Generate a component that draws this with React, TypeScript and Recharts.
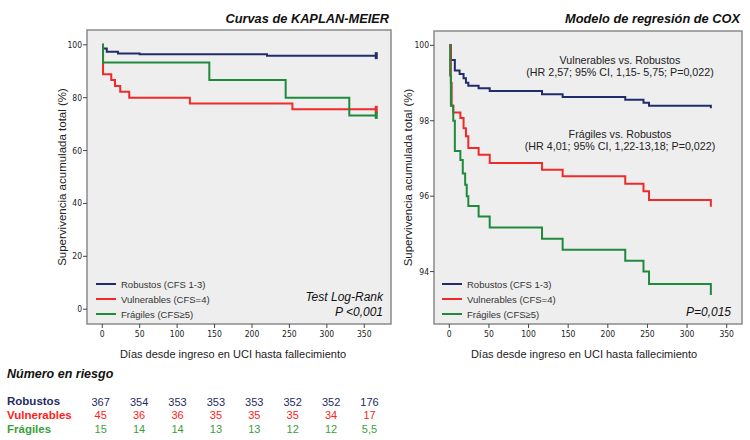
import { Label, Legend, Line, LineChart, ReferenceArea, XAxis, YAxis } from "recharts";

type Pt = [number, number];

// axis ticks
const dayTicks = [0, 50, 100, 150, 200, 250, 300, 350];
const kmTicks = [0, 20, 40, 60, 80, 100];
const coxTicks = [94, 96, 98, 100];

const seriesNames = ["Robustos (CFS 1-3)", "Vulnerables (CFS=4)", "Frágiles (CFS≥5)"];

// Kaplan-Meier curves: [day, % survival]
const kmRobustos: Pt[] = [[0, 100], [1, 98.6], [6, 97.4], [21, 96.7], [50, 96.4], [220, 95.9], [366, 95.9]];
const kmVulnerables: Pt[] = [[0, 100], [1, 88.9], [12, 86.7], [17, 84.4], [24, 82.2], [36, 80], [117, 77.8], [254, 75.6], [366, 75.6]];
const kmFragiles: Pt[] = [[0, 100], [1, 93.3], [143, 86.7], [245, 80], [330, 73.3], [366, 73.3]];

// Cox model curves: [day, % survival]
const coxRobustos: Pt[] = [[0, 100], [2, 99.61], [7, 99.33], [13, 99.24], [18, 99.13], [21, 99.01], [24, 98.93], [37, 98.86], [51, 98.79], [117, 98.7], [143, 98.63], [222, 98.56], [245, 98.48], [252, 98.4], [329, 98.4], [330, 98.33]];
const coxVulnerables: Pt[] = [[0, 100], [2, 99.0], [3, 98.4], [5, 98.22], [14, 98.07], [18, 97.8], [21, 97.59], [24, 97.28], [37, 97.1], [51, 96.88], [117, 96.7], [143, 96.53], [222, 96.33], [245, 96.13], [252, 95.9], [329, 95.9], [330, 95.72]];
const coxFragiles: Pt[] = [[0, 100], [1, 99.2], [2, 98.4], [5, 98.0], [7, 97.2], [14, 96.96], [17, 96.6], [20, 96.3], [22, 96.0], [24, 95.74], [37, 95.46], [51, 95.17], [117, 94.87], [143, 94.58], [222, 94.29], [245, 94.0], [252, 93.67], [329, 93.67], [330, 93.38]];

// number at risk
const riskRobustos = ["367", "354", "353", "353", "353", "352", "352", "176"];
const riskVulnerables = ["45", "36", "36", "35", "35", "35", "34", "17"];
const riskFragiles = ["15", "14", "14", "13", "13", "12", "12", "5,5"];

const NAVY = "#222c6c";
const RED = "#f02a2a";
const GREEN = "#1f8a3c";
const FONT = "'Liberation Sans', Arial, sans-serif";
const NARROW = "'Liberation Sans Narrow', 'DejaVu Sans Condensed', 'Liberation Sans', sans-serif";
const BG = "#eeeeee";
const FRAME = "#8a8a8a";

const toRows = (pts: Pt[]) => pts.map(([day, surv]) => ({ day, surv }));

// censor tick at the last point of a KM curve
const endMark = (color: string, last: number) => (props: any) => {
  const { cx, cy, index } = props;
  if (index !== last) return <g key={index} />;
  return <line key={index} x1={cx} x2={cx} y1={cy - 3.5} y2={cy + 3.5} stroke={color} strokeWidth={3} />;
};

function LegendBox(props: any) {
  const payload = [...(props.payload || [])].sort((a: any, b: any) => seriesNames.indexOf(a.value) - seriesNames.indexOf(b.value));
  return (
    <div style={{ fontFamily: FONT, fontSize: 9.5, color: "#333" }}>
      {payload.map((p: any) => (
        <div key={p.value} style={{ display: "flex", alignItems: "center", height: 15, whiteSpace: "nowrap" }}>
          <span style={{ display: "inline-block", width: 20, height: 2, background: p.color, marginRight: 5 }} />
          {p.value}
        </div>
      ))}
    </div>
  );
}

function Txt({ x, y, size, align = "left", bold, italic, color = "#111", children }: any) {
  const style: any = {
    position: "absolute",
    top: y - size / 2,
    fontSize: size,
    lineHeight: 1,
    fontFamily: FONT,
    fontWeight: bold ? "bold" : "normal",
    fontStyle: italic ? "italic" : "normal",
    color,
    whiteSpace: "nowrap",
  };
  if (align === "right") style.right = 750 - x;
  else if (align === "center") {
    style.left = x - 100;
    style.width = 200;
    style.textAlign = "center";
  } else style.left = x;
  return <div style={style}>{children}</div>;
}

const tickStyle = { fontSize: 8.5, fill: "#222", fontFamily: NARROW };

function RiskRow({ label, values, color, y }: { label: string; values: string[]; color: string; y: number }) {
  return (
    <>
      <Txt x={7} y={y} size={11.5} bold color={color}>{label}</Txt>
      {values.map((v, i) => (
        <div key={i} style={{ position: "absolute", left: 100.7 + i * 38.4 - 20, width: 40, top: y - 5.5, textAlign: "center", fontSize: 11, lineHeight: 1, fontFamily: FONT, color }}>
          {v}
        </div>
      ))}
    </>
  );
}

export default function App() {
  return (
    <div style={{ position: "absolute", left: 0, top: 0, width: 750, height: 440, background: "#fff", overflow: "hidden" }}>
      <div style={{ position: "absolute", left: 0, top: 0 }}>
        <LineChart width={400} height={362} margin={{ top: 30, right: 9, bottom: 0, left: 37 }}>
          <ReferenceArea x1={-20.4} x2={385.7} y1={-5.6} y2={105.6} fill={BG} fillOpacity={1} stroke={FRAME} strokeWidth={1.5} />
          <XAxis dataKey="day" type="number" domain={[-20.4, 385.7]} ticks={dayTicks} allowDataOverflow height={38} axisLine={false} tickSize={4} tickMargin={3} tick={tickStyle} tickLine={{ stroke: "#444" }}>
            <Label value="Días desde ingreso en UCI hasta fallecimiento" position="insideBottom" offset={4} dx={-6} style={{ fontSize: 11, fontFamily: FONT, fill: "#222" }} />
          </XAxis>
          <YAxis type="number" domain={[-5.6, 105.6]} ticks={kmTicks} allowDataOverflow width={50} axisLine={false} tickSize={4} tickMargin={1} tick={tickStyle} tickLine={{ stroke: "#444" }}>
            <Label value="Supervivencia acumulada total (%)" angle={-90} position="center" style={{ fontSize: 11.5, fontFamily: FONT, fill: "#222", textAnchor: "middle" }} />
          </YAxis>
          <Legend layout="horizontal" verticalAlign="middle" align="center" content={LegendBox} wrapperStyle={{ left: 96, top: 276.5, width: "auto", height: "auto" }} />
          <Line data={toRows(kmRobustos)} dataKey="surv" name={seriesNames[0]} type="stepAfter" stroke={NAVY} strokeWidth={2} dot={endMark(NAVY, kmRobustos.length - 1)} isAnimationActive={false} />
          <Line data={toRows(kmVulnerables)} dataKey="surv" name={seriesNames[1]} type="stepAfter" stroke={RED} strokeWidth={2} dot={endMark(RED, kmVulnerables.length - 1)} isAnimationActive={false} />
          <Line data={toRows(kmFragiles)} dataKey="surv" name={seriesNames[2]} type="stepAfter" stroke={GREEN} strokeWidth={2} dot={endMark(GREEN, kmFragiles.length - 1)} isAnimationActive={false} />
        </LineChart>
      </div>

      <div style={{ position: "absolute", left: 380, top: 0 }}>
        <LineChart width={370} height={362} margin={{ top: 31, right: 8, bottom: 0, left: 2 }}>
          <ReferenceArea x1={-19.3} x2={369.3} y1={92.61} y2={100.38} fill={BG} fillOpacity={1} stroke={FRAME} strokeWidth={1.5} />
          <XAxis dataKey="day" type="number" domain={[-19.3, 369.3]} ticks={dayTicks} allowDataOverflow height={38} axisLine={false} tickSize={4} tickMargin={3} tick={tickStyle} tickLine={{ stroke: "#444" }}>
            <Label value="Días desde ingreso en UCI hasta fallecimiento" position="insideBottom" offset={4} dx={-4} style={{ fontSize: 11, fontFamily: FONT, fill: "#222" }} />
          </XAxis>
          <YAxis type="number" domain={[92.61, 100.38]} ticks={coxTicks} allowDataOverflow width={52} axisLine={false} tickSize={4} tickMargin={1} tick={tickStyle} tickLine={{ stroke: "#444" }}>
            <Label value="Supervivencia acumulada total (%)" angle={-90} position="center" style={{ fontSize: 11.5, fontFamily: FONT, fill: "#222", textAnchor: "middle" }} />
          </YAxis>
          <Legend layout="horizontal" verticalAlign="middle" align="center" content={LegendBox} wrapperStyle={{ left: 62, top: 276.5, width: "auto", height: "auto" }} />
          <Line data={toRows(coxRobustos)} dataKey="surv" name={seriesNames[0]} type="stepAfter" stroke={NAVY} strokeWidth={2} dot={false} isAnimationActive={false} />
          <Line data={toRows(coxVulnerables)} dataKey="surv" name={seriesNames[1]} type="stepAfter" stroke={RED} strokeWidth={2} dot={false} isAnimationActive={false} />
          <Line data={toRows(coxFragiles)} dataKey="surv" name={seriesNames[2]} type="stepAfter" stroke={GREEN} strokeWidth={2} dot={false} isAnimationActive={false} />
        </LineChart>
      </div>

      {/* titles and annotations */}
      <Txt x={389} y={19.5} size={12.8} align="right" bold italic>Curvas de KAPLAN-MEIER</Txt>
      <Txt x={740} y={19.5} size={12.8} align="right" bold italic>Modelo de regresión de COX</Txt>
      <Txt x={620} y={60} size={10.7} align="center" color="#222">Vulnerables vs. Robustos</Txt>
      <Txt x={620} y={72.7} size={10.7} align="center" color="#222">(HR 2,57; 95% CI, 1,15- 5,75; P=0,022)</Txt>
      <Txt x={620} y={134.3} size={10.7} align="center" color="#222">Frágiles vs. Robustos</Txt>
      <Txt x={620} y={146.7} size={10.7} align="center" color="#222">(HR 4,01; 95% CI, 1,22-13,18; P=0,022)</Txt>
      <Txt x={383} y={296.7} size={12} align="right" italic>Test Log-Rank</Txt>
      <Txt x={383} y={311.7} size={12} align="right" italic>P &lt;0,001</Txt>
      <Txt x={731} y={311.7} size={12} align="right" italic>P=0,015</Txt>

      {/* number at risk table */}
      <Txt x={7} y={374} size={12.5} bold italic>Número en riesgo</Txt>
      <RiskRow label="Robustos" values={riskRobustos} color="#1f2d5f" y={402} />
      <RiskRow label="Vulnerables" values={riskVulnerables} color="#ff2020" y={415.3} />
      <RiskRow label="Frágiles" values={riskFragiles} color="#3d9e3d" y={429.3} />
    </div>
  );
}
